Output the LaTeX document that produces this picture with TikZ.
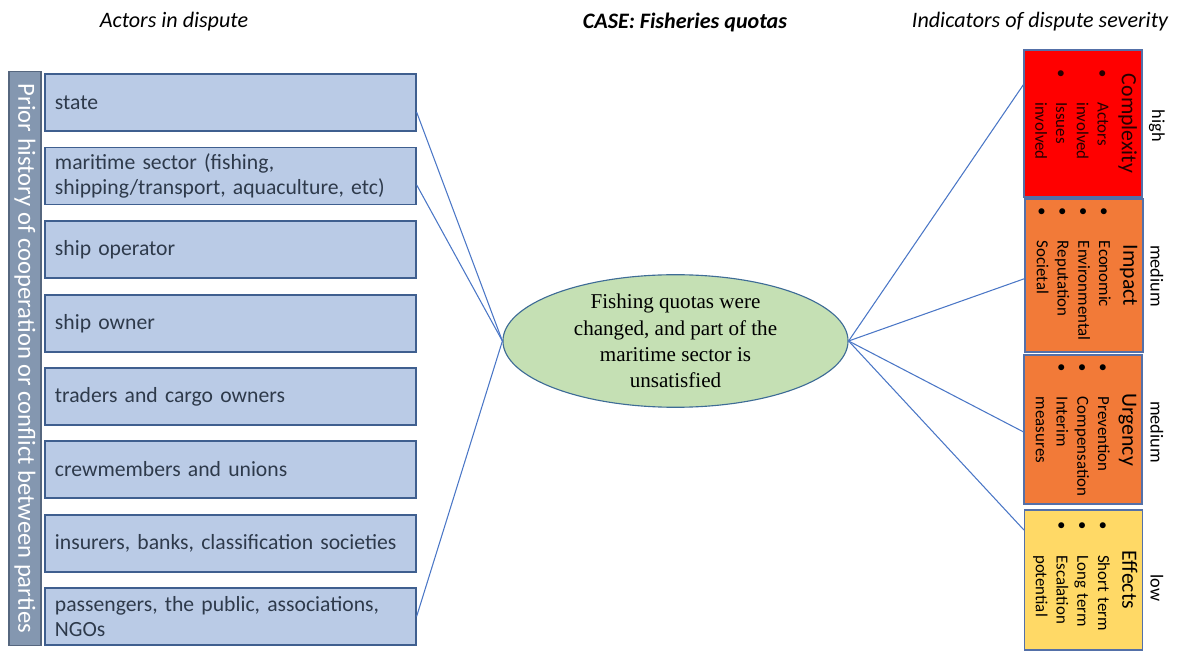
\documentclass[tikz,border=0pt]{standalone}
\usepackage{fontspec}
\setmainfont{Carlito}
\newfontfamily\casefont{Liberation Serif}
\usepackage{tikz}
\usetikzlibrary{shapes.geometric}
\definecolor{actorfill}{HTML}{BACBE6}
\definecolor{actorline}{HTML}{3F5F8F}
\definecolor{actortext}{HTML}{2E3A4B}
\definecolor{histfill}{HTML}{8497B0}
\definecolor{histline}{HTML}{56677F}
\definecolor{casefill}{HTML}{C5E0B4}
\definecolor{caseline}{HTML}{3E6C96}
\definecolor{linkblue}{HTML}{4A76C6}
\definecolor{indline}{HTML}{5470A8}
\definecolor{cplxred}{HTML}{FF0000}
\definecolor{impactorange}{HTML}{F27A38}
\definecolor{effectsgold}{HTML}{FFD966}
\newcommand{\indtitle}{\fontsize{15.5}{18}\selectfont}
\renewcommand{\arraystretch}{1.04}

\begin{document}
\begin{tikzpicture}[x=0.025cm, y=-0.025cm]
            \tikzset{actor/.style = {draw=actorline, line width=0.8pt, fill=actorfill, minimum width=9.275cm, minimum height=1.425cm, text width=8.775cm, inner xsep=0.25cm, align=left, text=actortext, font=\fontsize{15.4}{18.2}\selectfont}}
            \tikzset{link/.style = {draw=linkblue, line width=0.75pt}}
            \tikzset{indbox/.style = {draw=indline, line width=0.8pt, rotate=-90, inner sep=0, minimum height=2.95cm, align=left, text=black, font=\fontsize{12}{14.2}\selectfont}}
            \tikzset{level/.style = {rotate=-90, font=\fontsize{13}{15}\selectfont}}
            \tikzset{head/.style = {font=\fontsize{15.7}{18}\selectfont\itshape}}

            \useasboundingbox (0,0) rectangle (1180,655);

            \node[head] (h1) at (174,22) {Actors in dispute};
            \node[head, font=\fontsize{15.7}{18}\selectfont\bfseries\itshape] (h2) at (685,22) {CASE: Fisheries quotas};
            \node[head] (h3) at (1040,22) {Indicators of dispute severity};

            \node[draw=histline, fill=histfill, line width=0.8pt, rotate=-90, minimum width=14.325cm, minimum height=0.8cm, inner sep=0, text=white, font=\fontsize{17.5}{20}\selectfont] (hist) at (25,358.5) {Prior history of cooperation or conflict between parties};

            \node[actor] (a1) at (230.5,102.5) {state};
            \node[actor] (a2) at (230.5,176) {maritime sector (fishing,\\shipping/transport, aquaculture, etc)};
            \node[actor] (a3) at (230.5,249.5) {ship operator};
            \node[actor] (a4) at (230.5,323.5) {ship owner};
            \node[actor] (a5) at (230.5,396.5) {traders and cargo owners};
            \node[actor] (a6) at (230.5,469.5) {crewmembers and unions};
            \node[actor] (a7) at (230.5,543.5) {insurers, banks, classification societies};
            \node[actor] (a8) at (230.5,616.5) {passengers, the public, associations,\\NGOs};

            \node[ellipse, draw=caseline, fill=casefill, line width=0.8pt, minimum width=8.625cm, minimum height=2.925cm, inner sep=0, align=center, font=\casefont\fontsize{15}{18.7}\selectfont] (case) at (675.5,341) {Fishing quotas were\\changed, and part of the\\maritime sector is\\unsatisfied};

            % severity indicators
            \node[indbox, fill=cplxred, minimum width=3.675cm, text width=3.675cm, text=black!85!red] (c1) at (1083,123.5) {\centerline{\indtitle Complexity}\vskip3pt
                \hspace*{0.5cm}\begin{tabular}[t]{@{}l@{\hspace{0.6cm}}l@{}}\textbullet & Actors\\ & involved\\ \textbullet & Issues\\ & involved\end{tabular}};
            \node[indbox, fill=impactorange, minimum width=3.825cm, text width=3.825cm] (c2) at (1084,275.5) {\centerline{\indtitle Impact}\vskip3pt
                \hspace*{0.22cm}\begin{tabular}[t]{@{}l@{\hspace{0.62cm}}l@{}}\textbullet & Economic\\ \textbullet & Environmental\\ \textbullet & Reputation\\ \textbullet & Societal\end{tabular}};
            \node[indbox, fill=impactorange, minimum width=3.725cm, text width=3.725cm] (c3) at (1083,429.5) {\centerline{\indtitle Urgency}\vskip3pt
                \hspace*{0.22cm}\begin{tabular}[t]{@{}l@{\hspace{0.62cm}}l@{}}\textbullet & Prevention\\ \textbullet & Compensation\\ \textbullet & Interim\\ & measures\end{tabular}};
            \node[indbox, fill=effectsgold, minimum width=3.5cm, text width=3.5cm] (c4) at (1083.5,580) {\centerline{\indtitle Effects}\vskip3pt
                \hspace*{0.3cm}\begin{tabular}[t]{@{}l@{\hspace{0.62cm}}l@{}}\textbullet & Short term\\ \textbullet & Long term\\ \textbullet & Escalation\\ & potential\end{tabular}};

            \node[level] (l1) at (1157,126) {high};
            \node[level] (l2) at (1157,276) {medium};
            \node[level] (l3) at (1157,432) {medium};
            \node[level] (l4) at (1157,588) {low};

            \draw[link] ([yshift=-0.24cm]a1.east) -- (case.west);
            \draw[link] ([yshift=-0.22cm]a2.east) -- (case.west);
            \draw[link] (a8.east) -- (case.west);
            \draw[link] (case.east) -- ([yshift=0.97cm]c1.south);
            \draw[link] (case.east) -- ([yshift=-0.08cm]c2.south);
            \draw[link] (case.east) -- ([yshift=-0.06cm]c3.south);
            \draw[link] (case.east) -- ([yshift=1.25cm]c4.south);

        \end{tikzpicture}
\end{document}
